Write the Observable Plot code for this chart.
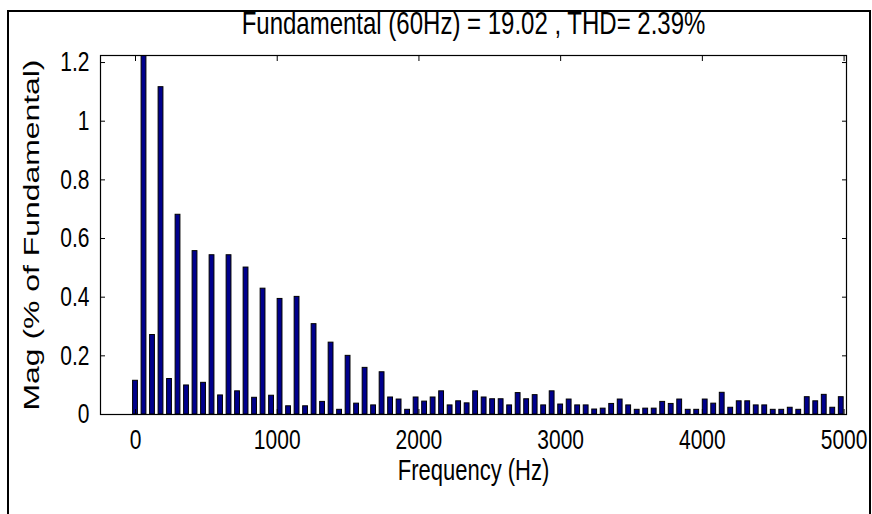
<!DOCTYPE html>
<html>
<head>
<meta charset="utf-8">
<script src="https://cdn.jsdelivr.net/npm/d3@7"></script>
<script src="https://cdn.jsdelivr.net/npm/@observablehq/plot@0.6"></script>
<style>
  html, body { margin: 0; padding: 0; background: #fff; }
  #wrap { position: relative; width: 872px; height: 514px; overflow: hidden; }
  #border { position: absolute; left: 7px; top: 10px; width: 864px; height: 600px; border: 2px solid #000; box-sizing: border-box; }
  #chart { position: absolute; left: 0; top: 0; }
  #chart svg { background: transparent !important; }
</style>
</head>
<body>
<div id="wrap"><div id="border"></div><div id="chart"></div></div>
<script>
// Frequencies (Hz) of the harmonic bins, 0 .. 4980 step 60
const freqs = [
  0, 60, 120, 180, 240, 300, 360, 420, 480, 540, 600, 660, 720, 780, 840, 900, 960, 1020,
  1080, 1140, 1200, 1260, 1320, 1380, 1440, 1500, 1560, 1620, 1680, 1740, 1800, 1860, 1920, 1980,
  2040, 2100, 2160, 2220, 2280, 2340, 2400, 2460, 2520, 2580, 2640, 2700, 2760, 2820, 2880, 2940,
  3000, 3060, 3120, 3180, 3240, 3300, 3360, 3420, 3480, 3540, 3600, 3660, 3720, 3780, 3840, 3900,
  3960, 4020, 4080, 4140, 4200, 4260, 4320, 4380, 4440, 4500, 4560, 4620, 4680, 4740, 4800, 4860,
  4920, 4980
];
// Magnitude (% of fundamental); the fundamental (60 Hz) is 100 and is clipped by the axes
const mags = [
  0.115, 100, 0.271, 1.116, 0.121, 0.681, 0.099, 0.557, 0.108, 0.543, 0.065, 0.543, 0.079, 0.501, 0.057, 0.429, 0.064, 0.394,
  0.028, 0.401, 0.028, 0.308, 0.043, 0.245, 0.016, 0.200, 0.037, 0.159, 0.031, 0.144, 0.058, 0.051, 0.016, 0.058,
  0.044, 0.058, 0.079, 0.031, 0.045, 0.038, 0.079, 0.058, 0.052, 0.052, 0.031, 0.073, 0.052, 0.066, 0.031, 0.079,
  0.034, 0.051, 0.031, 0.031, 0.017, 0.020, 0.036, 0.051, 0.031, 0.016, 0.020, 0.020, 0.043, 0.036, 0.051, 0.016,
  0.016, 0.051, 0.037, 0.074, 0.023, 0.045, 0.045, 0.031, 0.031, 0.016, 0.016, 0.023, 0.016, 0.059, 0.045, 0.067,
  0.023, 0.059
];
const xTicks = [0, 1000, 2000, 3000, 4000, 5000];
const yTicks = [0, 0.2, 0.4, 0.6, 0.8, 1, 1.2];
const titleText = "Fundamental (60Hz) = 19.02 , THD= 2.39%";
const xLabel = "Frequency (Hz)";
const yLabel = "Mag (% of Fundamental)";

const data = freqs.map((f, i) => ({f, v: mags[i]}));
const halfW = 17;
const FONT = "'Liberation Sans', Arial, Helvetica, sans-serif";

const chart = Plot.plot({
  width: 872,
  height: 514,
  marginLeft: 100,
  marginRight: 26,
  marginTop: 55,
  marginBottom: 100,
  style: {fontFamily: FONT, fontSize: "21px", color: "#000", background: "transparent"},
  x: {domain: [-247, 5017]},
  y: {domain: [0, 1.224]},
  marks: [
    Plot.rectY(data, {x1: d => d.f - halfW, x2: d => d.f + halfW, y: "v", fill: "#00008c", stroke: "#000", strokeWidth: 1, clip: true}),
    Plot.frame({stroke: "#000", strokeWidth: 1.2}),
    Plot.axisX({anchor: "bottom", ticks: xTicks, tickSize: -5, tickFormat: () => "", label: null}),
    Plot.axisX({anchor: "top", ticks: xTicks, tickSize: -5, tickFormat: () => "", label: null}),
    Plot.axisY({anchor: "left", ticks: yTicks, tickSize: -5, tickFormat: () => "", label: null}),
    Plot.axisY({anchor: "right", ticks: yTicks, tickSize: -5, tickFormat: () => "", label: null}),
    // tick labels
    Plot.text(xTicks, {x: d => d, text: d => String(d), frameAnchor: "bottom", lineAnchor: "middle", dy: 26, fontSize: 21, fill: "#000", className: "stretch"}),
    Plot.text(yTicks, {y: d => d, text: d => String(d), frameAnchor: "left", textAnchor: "end", lineAnchor: "middle", dx: -11, fontSize: 21, fill: "#000", className: "stretch"}),
    // axis titles and chart title
    Plot.text([xLabel], {frameAnchor: "bottom", lineAnchor: "middle", textAnchor: "middle", dy: 56, fontSize: 22, fill: "#000", className: "stretch"}),
    Plot.text([yLabel], {frameAnchor: "left", lineAnchor: "middle", textAnchor: "middle", dx: -69, rotate: -90, fontSize: 22, fill: "#000", className: "stretchv"}),
    Plot.text([titleText], {frameAnchor: "top", lineAnchor: "middle", textAnchor: "middle", dy: -32, fontSize: 24, fill: "#000", className: "stretch"})
  ]
});

// The reference's lettering is drawn tall and narrow: stretch glyphs vertically about their anchor
const SY = 1.3;
const SV = 1.45;
chart.querySelectorAll("g.stretch text").forEach(t => {
  t.setAttribute("transform", (t.getAttribute("transform") || "") + ` scale(1,${SY})`);
});
chart.querySelectorAll("g.stretchv text").forEach(t => {
  t.setAttribute("transform", (t.getAttribute("transform") || "") + ` scale(${SV},1)`);
});
document.getElementById("chart").appendChild(chart);
</script>
</body>
</html>
